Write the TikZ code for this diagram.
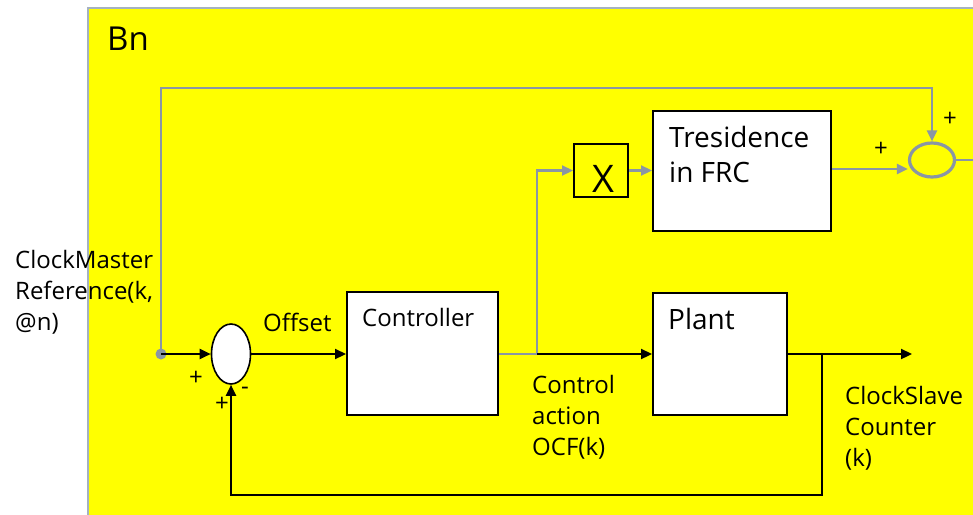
\documentclass[tikz,border=0pt]{standalone}
\usepackage{fontspec}
\setmainfont{Open Sans}
\usetikzlibrary{shapes.geometric,arrows.meta}
\definecolor{ylw}{RGB}{255,255,0}
\definecolor{wire}{RGB}{138,150,164}
\definecolor{frame}{RGB}{165,178,192}
\begin{document}
\begin{tikzpicture}[x=1pt,y=-1pt,
  blk/.style={draw=black,fill=white,line width=2pt,inner sep=0pt},
  lbl/.style={font=\fontsize{24}{31}\selectfont,align=left,anchor=base west,inner sep=0pt,text=black},
  big/.style={font=\fontsize{28}{35}\selectfont,align=left,anchor=base west,inner sep=0pt},
  sgn/.style={font=\fontsize{24}{24}\selectfont,inner sep=0pt},
  bw/.style={draw=black,line width=2.2pt},
  gw/.style={draw=wire,line width=2.2pt},
  tip/.style={-{Triangle[length=11pt,width=10pt]}}]
\useasboundingbox (0,0) rectangle (973,514);
\fill[white] (0,0) rectangle (973,514);
\draw[fill=ylw,draw=frame,line width=1.5pt] (88,8) rectangle (980,520);
\node[font=\fontsize{33}{40}\selectfont,anchor=base west,inner sep=0pt] (bn) at (107,50) {Bn};

% blocks
\node[blk,minimum width=151pt,minimum height=123pt] (ctrl) at (422.5,353.5) {};
\node[blk,minimum width=134pt,minimum height=122pt] (plant) at (720,354) {};
\node[blk,minimum width=178pt,minimum height=120pt] (tres) at (742,171) {};
\node[draw=black,line width=2pt,fill=ylw,minimum width=54pt,minimum height=53pt,inner sep=0pt] (xb) at (601,170.5) {};
\node[font=\fontsize{38}{40}\selectfont,inner sep=0pt,anchor=base] (xt) at (603,192) {X};
\node[ellipse,draw=black,fill=white,line width=1.6pt,minimum width=39pt,minimum height=60pt,inner sep=0pt] (sum) at (231,354) {};
\node[ellipse,draw=wire,line width=3.2pt,minimum width=45pt,minimum height=34pt,inner sep=0pt] (sum2) at (932,160) {};
\fill[wire] (161,354) circle (5.5pt);
\coordinate (dot) at (161,354);

% labels
\node[lbl] (cm) at (15,330) {ClockMaster\\Reference(k,\\@n)};
\node[lbl] (off) at (263,331) {Offset};
\node[lbl] (ctl) at (362,326) {Controller};
\node[big] (pl) at (668,329) {Plant};
\node[big] (tr) at (669,182) {Tresidence\\in FRC};
\node[lbl] (ca) at (532,455) {Control\\action\\OCF(k)};
\node[lbl] (cs) at (845,466) {ClockSlave\\Counter\\(k)};
\node[sgn] (p1) at (196,378) {+};
\node[sgn] (p2) at (222,404) {+};
\node[sgn] (m1) at (245,391) {-};
\node[sgn] (p3) at (881,149) {+};
\node[sgn] (p4) at (950,119) {+};

% coordinates
\coordinate (br) at (537,354);
\coordinate (tl) at (161,88);
\coordinate (tr2) at (932,88);
\coordinate (out) at (912,354);
\coordinate (fb1) at (822,354);
\coordinate (fb2) at (822,495);
\coordinate (fb3) at (231,495);
\coordinate (right) at (975,160);

% gray wires
\draw[gw,tip] (dot) -- (tl) -- (tr2) -- (sum2.north);
\draw[gw] (ctrl.east |- br) -- (br);
\draw[gw,tip] (br) -- (br |- xb.west) -- (xb.west);
\draw[gw,tip] (xb.east) -- (tres.west |- xb.east);
\draw[gw,tip] (tres.east |- 0,169) -- (sum2.west |- 0,169);
\draw[gw] (sum2.east) -- (right);

% black wires
\draw[bw,tip] (dot) -- (sum.west);
\draw[bw,tip] (sum.east) -- (ctrl.west |- sum.east);
\draw[bw,tip] (br) -- (plant.west |- br);
\draw[bw,tip] (plant.east |- out) -- (out);
\draw[bw,tip] (fb1) -- (fb2) -- (fb3) -- (sum.south);
\end{tikzpicture}
\end{document}
